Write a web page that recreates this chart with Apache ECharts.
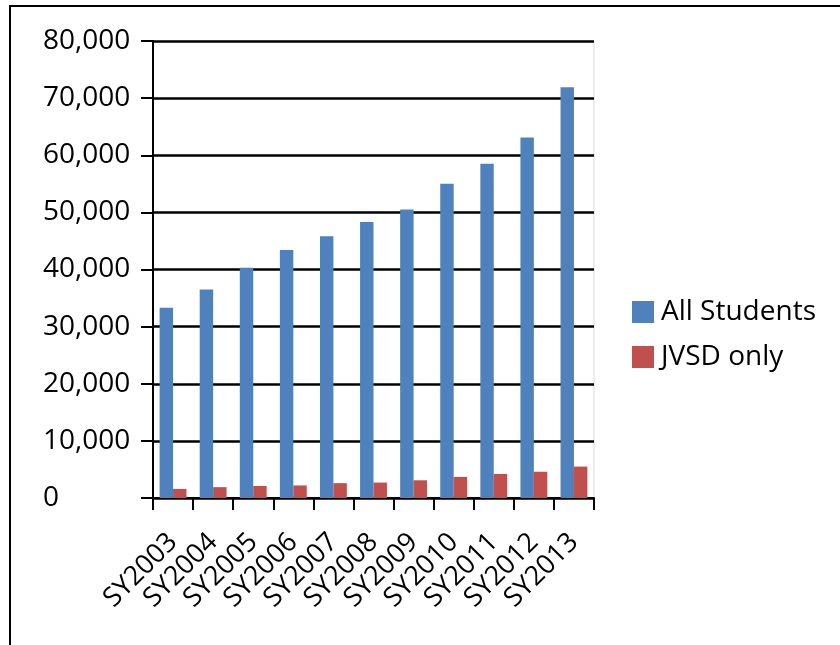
<!DOCTYPE html>
<html>
<head>
<meta charset="utf-8">
<style>
  html, body { margin: 0; padding: 0; background: #fff; }
  #frame {
    position: absolute; left: 9px; top: 5px; width: 831px; height: 640px;
    border-top: 2px solid #000; border-left: 2px solid #000;
    box-sizing: border-box; pointer-events: none; z-index: 2;
  }
  #chart { position: absolute; left: 0; top: 0; width: 840px; height: 645px; }
</style>
<script src="https://cdn.jsdelivr.net/npm/echarts@6/dist/echarts.min.js"></script>
</head>
<body>
<div id="chart"></div>
<div id="frame"></div>
<script>
// School years on the category axis
const schoolYears = ['SY2003', 'SY2004', 'SY2005', 'SY2006', 'SY2007', 'SY2008',
                     'SY2009', 'SY2010', 'SY2011', 'SY2012', 'SY2013'];
// Enrollment counts
const allStudents = [33300, 36500, 40300, 43400, 45800, 48300, 50500, 55000, 58500, 63100, 71900];
const jvsdOnly    = [1600, 1900, 2100, 2200, 2600, 2700, 3100, 3700, 4200, 4600, 5500];
// Value axis range
const yMin = 0, yMax = 80000, yStep = 10000;

const FONT = 'Open Sans';
const chart = echarts.init(document.getElementById('chart'), null, { renderer: 'canvas' });

chart.setOption({
  animation: false,
  backgroundColor: '#fff',
  textStyle: { fontFamily: FONT },
  grid: {
    left: 153, right: 246, top: 41, bottom: 147,
    show: true, borderColor: '#d9d9d9', borderWidth: 1, backgroundColor: 'transparent'
  },
  legend: {
    orient: 'vertical',
    left: 627, top: 293,
    itemWidth: 22, itemHeight: 22, itemGap: 17,
    icon: 'rect',
    textStyle: { fontFamily: FONT, fontSize: 28, color: '#000', padding: [0, 0, 0, 2] },
    data: ['All Students', 'JVSD only']
  },
  xAxis: {
    type: 'category',
    data: schoolYears,
    boundaryGap: true,
    axisLine: { lineStyle: { color: '#000', width: 2 } },
    axisTick: { show: true, length: 12, lineStyle: { color: '#000', width: 2 } },
    axisLabel: {
      rotate: 45, interval: 0, margin: 40,
      fontFamily: FONT, fontSize: 27, color: '#000'
    },
    splitLine: { show: false }
  },
  yAxis: {
    type: 'value',
    min: yMin, max: yMax, interval: yStep,
    axisLine: { show: true, lineStyle: { color: '#000', width: 2 } },
    axisTick: { show: true, length: 12, lineStyle: { color: '#000', width: 2 } },
    axisLabel: {
      align: 'left', margin: 110,
      fontFamily: FONT, fontSize: 28, color: '#000',
      formatter: v => v.toLocaleString('en-US')
    },
    splitLine: { show: true, lineStyle: { color: '#000', width: 2.5 } }
  },
  series: [
    {
      name: 'All Students', type: 'bar', data: allStudents,
      itemStyle: { color: '#4F81BD' },
      barGap: '0%', barCategoryGap: '33%'
    },
    {
      name: 'JVSD only', type: 'bar', data: jvsdOnly,
      itemStyle: { color: '#C0504D' },
      barGap: '0%', barCategoryGap: '33%'
    }
  ]
});
</script>
</body>
</html>
